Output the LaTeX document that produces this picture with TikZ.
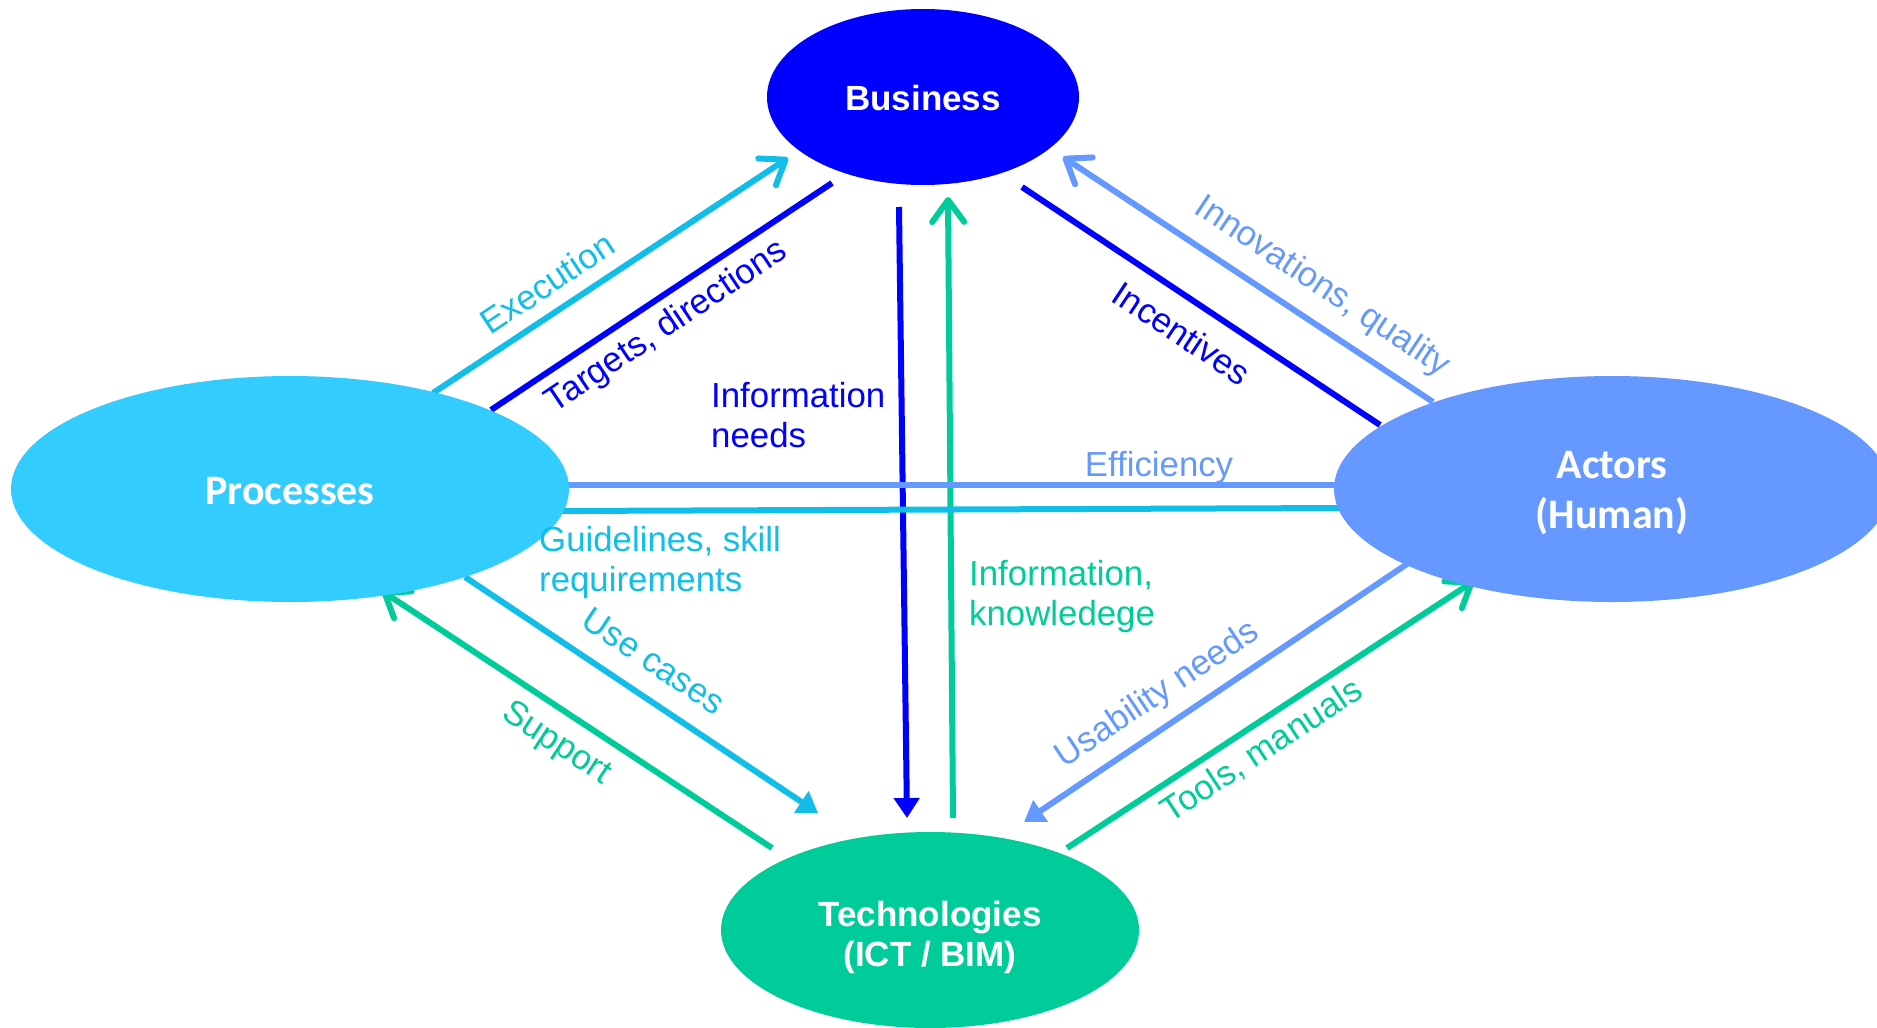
\documentclass[tikz,border=0pt]{standalone}
\usepackage{fontspec}
\setmainfont{Liberation Sans}
\newfontfamily\carlitofont{Carlito}
\usetikzlibrary{shapes.geometric,arrows.meta}

\definecolor{bizblue}{HTML}{0000FF}
\definecolor{proccyan}{HTML}{33CCFF}
\definecolor{cyanline}{HTML}{10BEE8}
\definecolor{actblue}{HTML}{6699FF}
\definecolor{techgreen}{HTML}{00CC99}

\begin{document}
\begin{tikzpicture}[x=1pt,y=-1pt,
  conn/.style={line width=6pt},
  barbtip/.style={-{Straight Barb[length=22pt,width=32pt,round]}},
  tritip/.style={-{Triangle[length=20pt,width=25pt]}},
  lbl/.style={font=\fontsize{34.8}{40}\selectfont, inner sep=0pt},
  blob/.style={ellipse, inner sep=0pt, draw=none},
  bigA/.style={font=\fontsize{35}{40}\selectfont\bfseries, text=white, inner sep=0pt, anchor=base, align=center},
  bigC/.style={font=\carlitofont\fontsize{42}{50}\selectfont\bfseries, text=white, inner sep=0pt, anchor=base, align=center},
]
\useasboundingbox (0,0) rectangle (1877,1028);
\clip (0,0) rectangle (1877,1028);

% connector end points
\coordinate (exS) at (433,393);  \coordinate (exE) at (788,158);
\coordinate (tgS) at (491,410);  \coordinate (tgE) at (832,183);
\coordinate (inS) at (899,207);  \coordinate (inE) at (907,818);
\coordinate (ikS) at (953,818);  \coordinate (ikE) at (948,197);
\coordinate (ivS) at (1433,402); \coordinate (ivE) at (1063,157);
\coordinate (icS) at (1022,187); \coordinate (icE) at (1380,425);
\coordinate (efS) at (560,485);  \coordinate (efE) at (1345,485);
\coordinate (gdS) at (560,511);  \coordinate (gdE) at (1345,508);
\coordinate (ucS) at (465,577);  \coordinate (ucE) at (818,813);
\coordinate (spS) at (772,848);  \coordinate (spE) at (382,591);
\coordinate (unS) at (1407,564); \coordinate (unE) at (1024,822);
\coordinate (tmS) at (1067,848); \coordinate (tmE) at (1474,581);

% connectors
\draw[conn, cyanline, barbtip] (exS) -- (exE);
\draw[conn, bizblue] (tgS) -- (tgE);
\draw[conn, bizblue, tritip] (inS) -- (inE);
\draw[conn, techgreen, barbtip] (ikS) -- (ikE);
\draw[conn, actblue, barbtip] (ivS) -- (ivE);
\draw[conn, bizblue] (icS) -- (icE);
\draw[conn, actblue] (efS) -- (efE);
\draw[conn, cyanline] (gdS) -- (gdE);
\draw[conn, cyanline, tritip] (ucS) -- (ucE);
\draw[conn, techgreen, barbtip] (spS) -- (spE);
\draw[conn, actblue, tritip] (unS) -- (unE);
\draw[conn, techgreen, barbtip] (tmS) -- (tmE);

% ellipses
\node[blob, fill=bizblue, minimum width=312pt, minimum height=176pt] (biz) at (923,97) {};
\node[blob, fill=proccyan, minimum width=558pt, minimum height=226pt] (proc) at (290,489) {};
\node[blob, fill=actblue, minimum width=556pt, minimum height=226pt] (act) at (1612,489) {};
\node[blob, fill=techgreen, minimum width=418pt, minimum height=196pt] (tech) at (930,930) {};

% ellipse texts (base = baseline of the last line)
\node[bigA] (bizT) at (923,110) {Business};
\node[bigA] (techT) at (930,966) {Technologies\\(ICT / BIM)};
\node[bigC] (procT) at (290,504) {Processes};
\node[bigC] (actT) at (1612,528) {Actors\\(Human)};

% labels
\node[lbl, text=cyanline, rotate=33.5] (execL) at (547,283) {Execution};
\node[lbl, text=bizblue, rotate=33.8] (targL) at (667,327) {Targets, directions};
\node[lbl, text=bizblue, rotate=-33.6] (incL) at (1182,333) {Incentives};
\node[lbl, text=actblue, rotate=-33.6] (innL) at (1322,287) {Innovations, quality};
\node[lbl, text=actblue, anchor=base] (effL) at (1159,476) {Efficiency};
\node[lbl, text=cyanline, anchor=base west, align=left] (guideL) at (539,591) {Guidelines, skill\\requirements};
\node[lbl, text=bizblue, anchor=base west, align=left] (infoNL) at (711,447) {Information\\needs};
\node[lbl, text=techgreen, anchor=base west, align=left] (infoKL) at (969,625) {Information,\\knowledege};
\node[lbl, text=cyanline, rotate=-33.6] (useL) at (654,661) {Use cases};
\node[lbl, text=techgreen, rotate=-33.3] (supL) at (556,744) {Support};
\node[lbl, text=actblue, rotate=33.8] (usaL) at (1158,695) {Usability needs};
\node[lbl, text=techgreen, rotate=33.3] (toolL) at (1262,751) {Tools, manuals};
\end{tikzpicture}
\end{document}
